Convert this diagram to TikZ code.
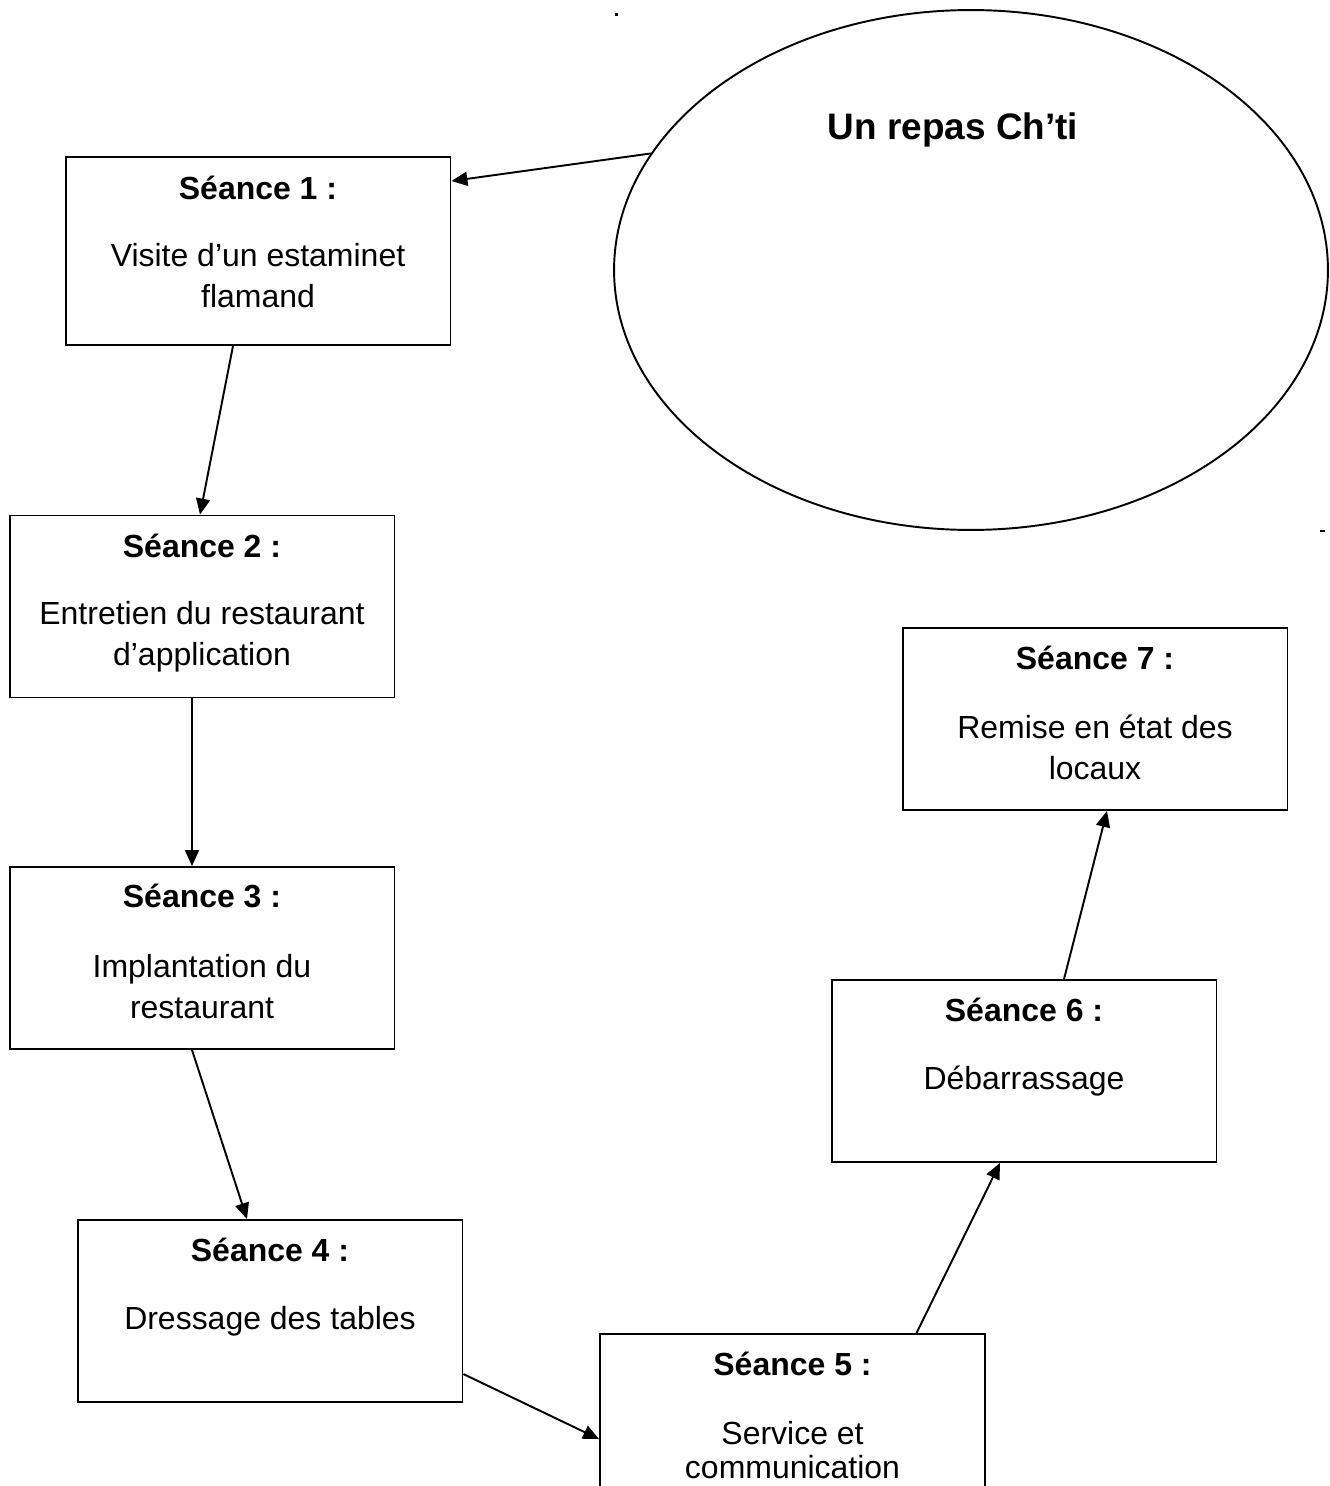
\documentclass[tikz,border=0pt]{standalone}
\usepackage{fontspec}
\setmainfont{Liberation Sans}
\usetikzlibrary{shapes.geometric,arrows.meta,calc}

\tikzset{
	seance/.style={draw,rectangle,line width=1.1pt,minimum width=7.7cm,minimum height=3.64cm,inner sep=0pt},
	titre/.style={font=\bfseries\fontsize{18.2pt}{23pt}\selectfont,inner sep=0pt},
	corps/.style={font=\fontsize{18.2pt}{23.3pt}\selectfont,align=center,inner sep=0pt},
	fleche/.style={line width=1.1pt,-{Triangle[length=0.32cm,width=0.28cm]}}
}

\begin{document}
\begin{tikzpicture}[x=0.02cm,y=-0.02cm]
	\useasboundingbox (0,0) rectangle (1329,1486);
	\node[draw,ellipse,line width=1.1pt,minimum width=14.28cm,minimum height=10.4cm,inner sep=0pt] (E) at (971,270) {};
	\node[font=\bfseries\fontsize{21pt}{25pt}\selectfont,inner sep=0pt] (T) at (953,130) {Un repas Ch’ti};
	\begin{scope}[every node/.style={seance}]
	\node[minimum height=3.76cm] (S1) at (258,251) {};
	\node (S2) at (202,606.5) {};
	\node (S3) at (202,958) {};
	\node (S4) at (270,1311) {};
	\node (S5) at (792.5,1425) {};
	\node (S6) at (1024,1071) {};
	\node (S7) at (1095,719) {};
	\end{scope}
	\node[titre] at (258,188) {Séance 1 :};
	\node[corps] at (258,275.5) {Visite d’un estaminet\\flamand};
	\node[titre] at (202,546) {Séance 2 :};
	\node[corps] at (202,637) {Entretien du restaurant\\d’application};
	\node[titre] at (202,896) {Séance 3 :};
	\node[corps] at (202,986.5) {Implantation du\\restaurant};
	\node[titre] at (270,1250) {Séance 4 :};
	\node[corps] at (270,1321) {Dressage des tables};
	\node[titre] at (792.5,1364) {Séance 5 :};
	\node[corps,font=\fontsize{18.2pt}{19.8pt}\selectfont] at (792.5,1450) {Service et\\communication};
	\node[titre] at (1024,1010) {Séance 6 :};
	\node[corps] at (1024,1081) {Débarrassage};
	\node[titre] at (1095,658) {Séance 7 :};
	\node[corps] at (1095,747) {Remise en état des\\locaux};
	\draw [fleche] (E.160.6) -- ($(S1.north east)+(0,25)$);
	\draw [fleche] ($(S1.south)+(-25,0)$) -- ($(S2.north)+(-2,0)$);
	\draw [fleche] ($(S2.south)+(-10,0)$) -- ($(S3.north)+(-10,0)$);
	\draw [fleche] ($(S3.south)+(-10,0)$) -- ($(S4.north)+(-23,0)$);
	\draw [fleche] ($(S4.north east)+(0,155)$) -- ($(S5.north west)+(0,106)$);
	\draw [fleche] ($(S5.north)+(124,0)$) -- ($(S6.south)+(-24,0)$);
	\draw [fleche] ($(S6.north)+(40,0)$) -- ($(S7.south)+(12,0)$);
	\fill (615,13) rectangle (618,16);
	\fill (1320,530) rectangle (1325,532);
\end{tikzpicture}
\end{document}
